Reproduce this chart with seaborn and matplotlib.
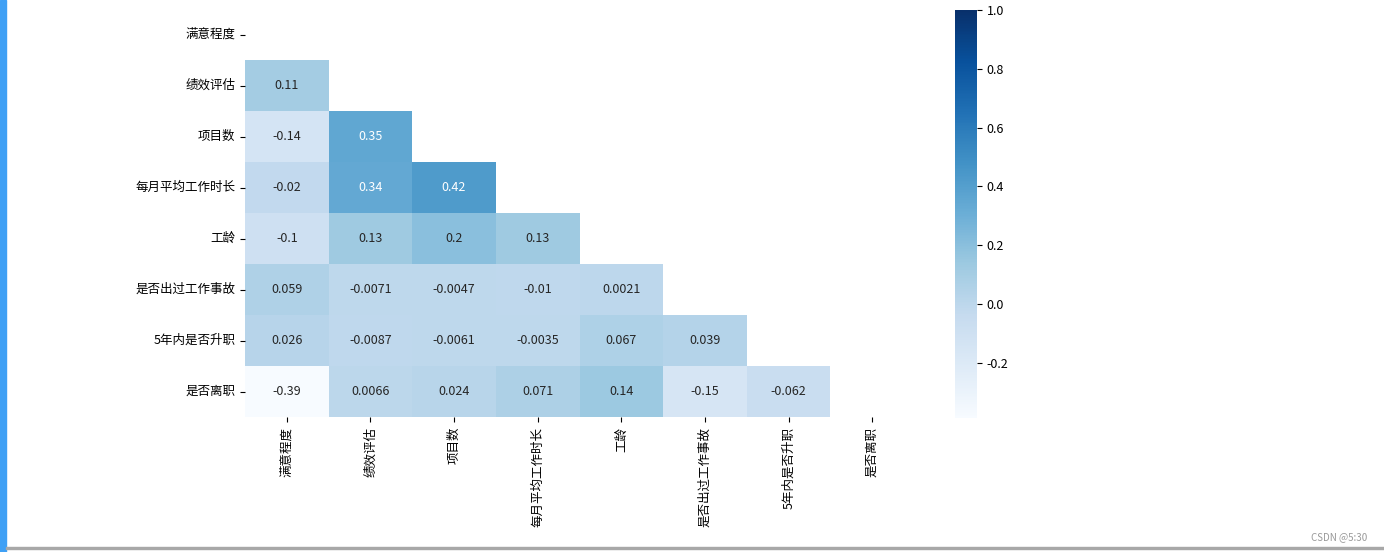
import numpy as np
import pandas as pd
import matplotlib.pyplot as plt
import seaborn as sns
from matplotlib.patches import Rectangle

labels = ["满意程度", "绩效评估", "项目数", "每月平均工作时长", "工龄",
          "是否出过工作事故", "5年内是否升职", "是否离职"]

# lower triangle of the correlation matrix, row by row
row_1 = [0.11]
row_2 = [-0.14, 0.35]
row_3 = [-0.02, 0.34, 0.42]
row_4 = [-0.1, 0.13, 0.2, 0.13]
row_5 = [0.059, -0.0071, -0.0047, -0.01, 0.0021]
row_6 = [0.026, -0.0087, -0.0061, -0.0035, 0.067, 0.039]
row_7 = [-0.388, 0.0066, 0.024, 0.071, 0.14, -0.15, -0.062]

lower_rows = [row_1, row_2, row_3, row_4, row_5, row_6, row_7]

n = len(labels)
corr = np.eye(n)
for i, row in enumerate(lower_rows, start=1):
    for j, v in enumerate(row):
        corr[i, j] = v
        corr[j, i] = v
corr_df = pd.DataFrame(corr, index=labels, columns=labels)
mask = np.triu(np.ones_like(corr, dtype=bool))

plt.rcParams["font.family"] = ["Noto Sans CJK SC", "DejaVu Sans"]
plt.rcParams["axes.unicode_minus"] = False

fig = plt.figure(figsize=(13.84, 5.52), dpi=100)
ax = fig.add_axes([245 / 1384, 1 - 417 / 552, (914 - 245) / 1384, (417 - 9) / 552])
cbar_ax = fig.add_axes([955 / 1384, 1 - 418 / 552, 22 / 1384, (418 - 10) / 552])

sns.heatmap(corr_df, mask=mask, cmap="Blues", vmax=1, annot=True,
            annot_kws={"fontsize": 9}, ax=ax, cbar_ax=cbar_ax)

ax.tick_params(axis="both", labelsize=9, length=3.5, width=0.8)
ax.set_yticklabels(labels, rotation=0)
ax.set_xticklabels(labels, rotation=90)
cbar_ax.tick_params(labelsize=9, length=3.5, width=0.8)
cbar_ax.set_frame_on(False)

# screenshot frame and watermark
fig.add_artist(Rectangle((0, 0), 6 / 1384, 1, transform=fig.transFigure,
                         color="#3fa0f5", zorder=0))
fig.add_artist(Rectangle((6 / 1384, 3 / 552), 1, 2 / 552, transform=fig.transFigure,
                         color="#a8a8a8", zorder=0))
fig.text(1367 / 1384, 1 - 537 / 552, "CSDN @5:30", ha="right", va="center",
         fontsize=7, color="#999999")

plt.savefig("out.png", dpi=100)
plt.close()
